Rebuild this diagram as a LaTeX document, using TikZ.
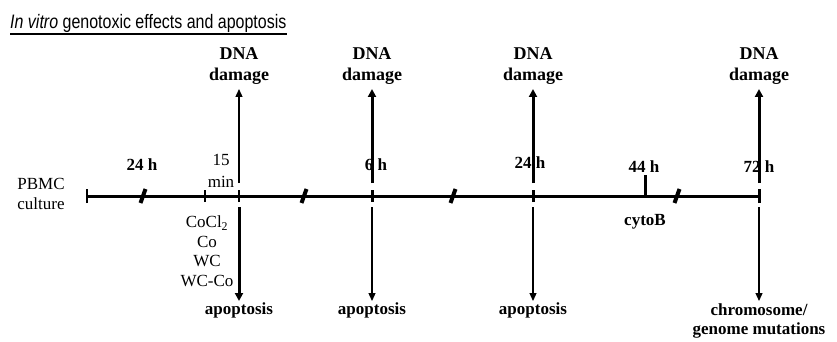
\documentclass[tikz,border=0pt]{standalone}
\usepackage{fontspec}
\setmainfont{Liberation Serif}
\newfontfamily\titlefont{Liberation Sans}
\usetikzlibrary{arrows.meta}
\begin{document}
\begin{tikzpicture}[x=1pt,y=-1pt,
 lbl/.style={font=\fontsize{17}{19.5}\selectfont, inner sep=0pt, align=center},
 blbl/.style={font=\fontsize{17}{21}\selectfont\bfseries, inner sep=0pt, align=center},
 dlbl/.style={font=\fontsize{18}{21.5}\selectfont\bfseries, inner sep=0pt, align=center},
 axis/.style={line width=3pt},
 thinarrow/.style={line width=1.3pt,-{Triangle[width=7pt,length=8pt]}},
 thickarrow/.style={line width=3pt,-{Triangle[width=8pt,length=8pt]}},
 tickthin/.style={line width=1.8pt},
 tickthick/.style={line width=3pt},
 brk/.style={line width=4pt}
]
\useasboundingbox (0,0) rectangle (837,342);

% title
\node[anchor=base west, inner sep=0pt] (title) at (10,29)
  {\titlefont\fontsize{19.5}{22}\selectfont\scalebox{0.82}[1]{\textit{In vitro} genotoxic effects and apoptosis}};
\draw[line width=1.6pt] ([yshift=-0.5pt]title.south west) -- ([yshift=-0.5pt]title.south east);

% timeline coordinates
\coordinate (t0) at (87,196);
\coordinate (t1) at (205,196);
\coordinate (t2) at (239,196);
\coordinate (t3) at (372,196);
\coordinate (t4) at (533,196);
\coordinate (t44) at (645,196);
\coordinate (t5) at (759,196);
\coordinate (b1) at (143,196);
\coordinate (b2) at (304,196);
\coordinate (b3) at (453,196);
\coordinate (b4) at (677,196);

% labels along the timeline
\node[lbl] (pbmc) at (41,194) {PBMC\\culture};
\node[blbl] (h24a) at (142,165) {24 h};
\node[lbl, font=\fontsize{17}{22}\selectfont] (min15) at (221,171) {15\\min};
\node[blbl] (h6) at (376,165) {6 h};
\node[blbl] (h24b) at (530,163) {24 h};
\node[blbl] (h44) at (644,167) {44 h};
\node[blbl] (h72) at (759,167) {72 h};
\node[blbl] (cyto) at (645,222) {cytoB};
\node[lbl] (agents) at (207,251) {CoCl\textsubscript{2}\\Co\\WC\\WC-Co};

% timeline
\draw[axis] (t0) -- (t5);
\draw[tickthin] ([yshift=-7pt]t0) -- ([yshift=7pt]t0);
\draw[tickthin] ([yshift=-6pt]t1) -- ([yshift=6pt]t1);
\draw[tickthin] ([yshift=-6pt]t2) -- ([yshift=6pt]t2);
\draw[tickthick] ([yshift=-6pt]t3) -- ([yshift=6pt]t3);
\draw[tickthick] ([yshift=-6pt]t4) -- ([yshift=6pt]t4);
\draw[tickthick] ([yshift=-7pt]t5) -- ([yshift=7pt]t5);
\draw[tickthick] (t44) -- ++(0,-21);
\foreach \b in {b1,b2,b3,b4}
  \draw[brk] ([shift={(-2.5,7)}]\b) -- ([shift={(2.5,-7)}]\b);

% outcome labels
\node[dlbl] (dna1) at (239,66) {DNA\\damage};
\node[dlbl] (dna2) at (372,66) {DNA\\damage};
\node[dlbl] (dna3) at (533,66) {DNA\\damage};
\node[dlbl] (dna4) at (759,66) {DNA\\damage};
\node[blbl] (apo1) at (239,310) {apoptosis};
\node[blbl] (apo2) at (372,310) {apoptosis};
\node[blbl] (apo3) at (533,310) {apoptosis};
\node[blbl, font=\fontsize{17}{19.5}\selectfont\bfseries] (chrom) at (759,321) {chromosome/\\genome mutations};

% arrows up
\coordinate (u2) at (239,183);
\coordinate (u3) at (372,183);
\coordinate (u4) at (533,183);
\coordinate (u5) at (759,183);
\draw[thinarrow] (u2) -- (dna1.south |- 0,89);
\draw[thickarrow] (u3) -- (dna2.south |- 0,89);
\draw[thickarrow] (u4) -- (dna3.south |- 0,89);
\draw[thickarrow] (u5) -- (dna4.south |- 0,89);

% arrows down
\coordinate (d2) at (239,207);
\coordinate (d3) at (372,207);
\coordinate (d4) at (533,207);
\coordinate (d5) at (759,207);
\draw[thickarrow] (d2) -- (apo1.north |- 0,301);
\draw[thinarrow] (d3) -- (apo2.north |- 0,301);
\draw[thinarrow] (d4) -- (apo3.north |- 0,301);
\draw[thinarrow] (d5) -- (chrom.north |- 0,301);
\end{tikzpicture}
\end{document}
